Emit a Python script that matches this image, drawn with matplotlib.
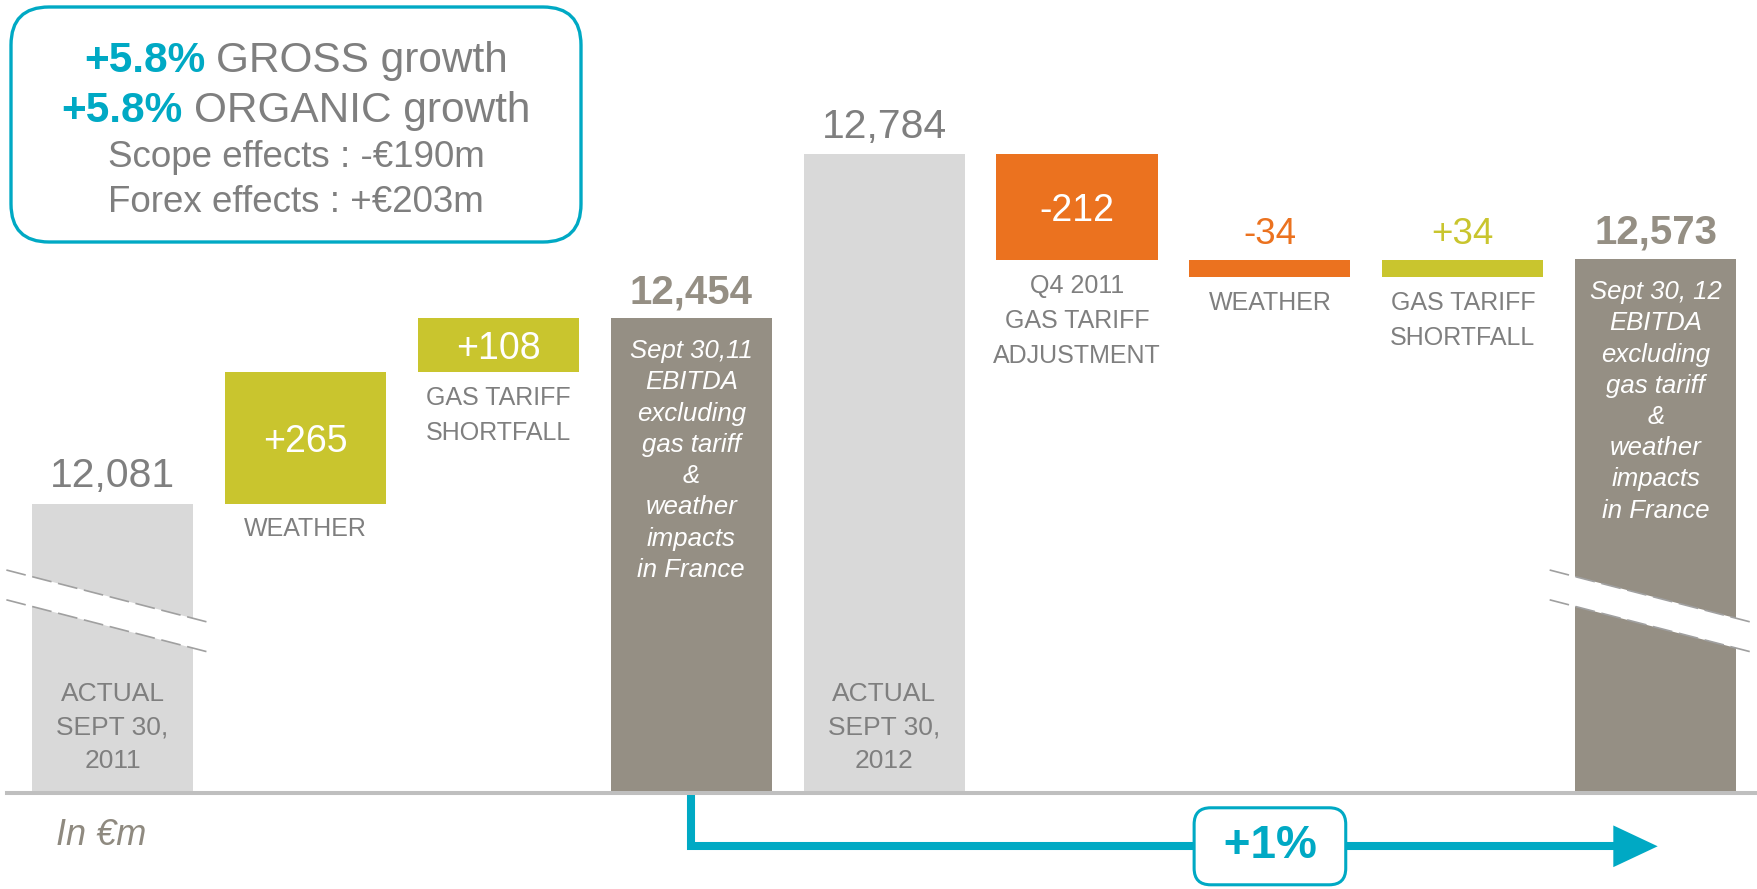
import matplotlib.pyplot as plt
from matplotlib import font_manager
from matplotlib.patches import FancyBboxPatch, Polygon

# Pick a narrow sans if there is one, the chart uses a condensed face.
names = {f.name for f in font_manager.fontManager.ttflist}
NARROW = 'Liberation Sans Narrow' if 'Liberation Sans Narrow' in names else 'Liberation Sans'
plt.rcParams['font.family'] = [NARROW, 'DejaVu Sans']

# Data (EBITDA bridge, in €m)
labels = ['ACTUAL\nSEPT 30,\n2011', 'WEATHER', 'GAS TARIFF\nSHORTFALL',
          'Sept 30,11\nEBITDA\nexcluding\ngas tariff\n&\nweather\nimpacts\nin France',
          'ACTUAL\nSEPT 30,\n2012', 'Q4 2011\nGAS TARIFF\nADJUSTMENT', 'WEATHER',
          'GAS TARIFF\nSHORTFALL',
          'Sept 30, 12\nEBITDA\nexcluding\ngas tariff\n&\nweather\nimpacts\nin France']
values = [12081, 265, 108, 12454, 12784, -212, -34, 34, 12573]
kinds = ['actual', 'delta', 'delta', 'adjusted', 'actual', 'delta', 'delta', 'delta', 'adjusted']
value_texts = ['12,081', '+265', '+108', '12,454', '12,784', '-212', '-34', '+34', '12,573']
growth_text = '+1%'
summary = [('+5.8%', 'GROSS growth'), ('+5.8%', 'ORGANIC growth')]
effects = ['Scope effects : -€190m', 'Forex effects : +€203m']
unit_text = 'In €m'
axis_base = 11500  # value at the (broken) baseline

LIGHT = '#D9D9D9'
TAUPE = '#958F84'
GREEN = '#C9C52E'
ORANGE = '#EB721F'
TEAL = '#00A9C4'
GREY = '#7F7F7F'

fig = plt.figure(figsize=(17.58, 8.89), dpi=100)
ax = fig.add_axes([0, 0, 1, 1])
ax.set_xlim(-0.583, 8.53)
ax.set_ylim(11305, 13095)
ax.axis('off')

# waterfall geometry
bottoms, heights, colors = [], [], []
running = 0
for v, k in zip(values, kinds):
    if k == 'delta':
        start, end = running, running + v
        bottoms.append(min(start, end))
        heights.append(abs(v))
        colors.append(GREEN if v > 0 else ORANGE)
        running = end
    else:
        bottoms.append(axis_base)
        heights.append(v - axis_base)
        colors.append(LIGHT if k == 'actual' else TAUPE)
        running = v

x = list(range(len(values)))
ax.bar(x, heights, bottom=bottoms, width=0.835, color=colors, zorder=2)
ax.axhline(axis_base - 1, xmin=0.004, color='#BFBFBF', lw=2.9, zorder=3)

for i, (lab, k, vt) in enumerate(zip(labels, kinds, value_texts)):
    top = bottoms[i] + heights[i]
    if k == 'actual':
        ax.annotate(vt, (i, top), xytext=(0, 12), textcoords='offset points',
                    ha='center', va='baseline', fontsize=29.5, color=GREY)
        ax.annotate(lab, (i, axis_base), xytext=(0, 14), textcoords='offset points',
                    ha='center', va='bottom', fontsize=19, color=GREY,
                    linespacing=1.48, zorder=4)
    elif k == 'adjusted':
        ax.annotate(vt, (i, top), xytext=(0, 11), textcoords='offset points',
                    ha='center', va='baseline', fontsize=29, color=TAUPE,
                    weight='bold')
        ax.annotate(lab, (i, top), xytext=(0, -15), textcoords='offset points',
                    ha='center', va='top', fontsize=18.5, color='white',
                    style='italic', linespacing=1.38, zorder=4)
    else:
        if heights[i] >= 100:
            ax.text(i, bottoms[i] + heights[i] / 2, vt, ha='center',
                    va='center_baseline', fontsize=27, color='white', zorder=4)
        else:
            ax.annotate(vt, (i, top), xytext=(0, 11), textcoords='offset points',
                        ha='center', va='baseline', fontsize=26.5, color=colors[i])
        ax.annotate(lab, (i, bottoms[i]), xytext=(0, -10), textcoords='offset points',
                    ha='center', va='top', fontsize=18, color=GREY,
                    linespacing=1.58)

# axis-break marks on the first and last bars
brk_y, brk_gap, brk_slope = 11862, 30, -100.5
for i in (0, len(values) - 1):
    x0, x1 = i - 0.55, i + 0.51
    up = [brk_y + brk_gap + brk_slope * (x0 - i), brk_y + brk_gap + brk_slope * (x1 - i)]
    lo = [brk_y - brk_gap + brk_slope * (x0 - i), brk_y - brk_gap + brk_slope * (x1 - i)]
    ax.add_patch(Polygon([[x0, up[0]], [x1, up[1]], [x1, lo[1]], [x0, lo[0]]],
                         closed=True, fc='white', ec='none', zorder=3))
    for ys in (up, lo):
        ax.plot([x0, x1], ys, color='#A0A0A0', lw=1.2, ls=(0, (12, 4)), zorder=3)

# growth arrow between the two adjusted totals
start = kinds.index('adjusted')
end = len(values) - 1
arrow_y = 11391
ax.plot([start, start, end - 0.2], [axis_base, arrow_y, arrow_y], color=TEAL,
        lw=5.8, solid_joinstyle='miter', solid_capstyle='butt', zorder=1)
ax.add_patch(Polygon([[end - 0.22, arrow_y + 42], [end + 0.01, arrow_y],
                      [end - 0.22, arrow_y - 42]], closed=True, fc=TEAL, ec='none',
                     zorder=1))
ax.text(6, arrow_y, ' ' + growth_text + ' ', ha='center', va='center', fontsize=33,
        weight='bold', color=TEAL, zorder=5,
        bbox=dict(boxstyle='round,pad=0.36', fc='white', ec=TEAL, lw=2.2))

# overlay in pixel units for the summary box and unit note
ov = fig.add_axes([0, 0, 1, 1], zorder=5)
ov.set_xlim(0, 1758)
ov.set_ylim(889, 0)
ov.axis('off')
ov.patch.set_alpha(0)
ov.add_patch(FancyBboxPatch((11, 7), 570, 235, boxstyle='round,pad=0,rounding_size=38',
                            fc='white', ec=TEAL, lw=2.4))

r = fig.canvas.get_renderer()
for (hl, rest), yb in zip(summary, [72, 122]):
    t1 = ov.text(0, yb, hl, fontsize=30.5, weight='bold', color=TEAL,
                 va='baseline', family='Liberation Sans')
    t2 = ov.text(0, yb, rest, fontsize=30.5, color=GREY, va='baseline',
                 family='Liberation Sans')
    w1 = t1.get_window_extent(r).width
    w2 = t2.get_window_extent(r).width
    gap = 11
    x0 = 296 - (w1 + gap + w2) / 2
    t1.set_x(x0)
    t2.set_x(x0 + w1 + gap)
for txt, yb in zip(effects, [167, 212]):
    ov.text(296, yb, txt, fontsize=26.5, color=GREY, ha='center', va='baseline',
            family='Liberation Sans')

ov.text(101, 845, unit_text, ha='center', va='baseline', fontsize=26,
        style='italic', color='#8F8A80')

fig.savefig('out.png', dpi=100)
